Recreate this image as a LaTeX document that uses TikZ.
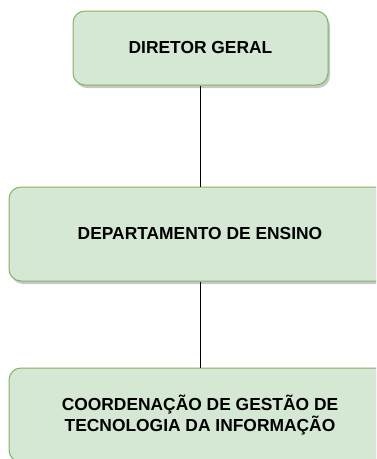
\documentclass[tikz,border=0pt]{standalone}
\usepackage{fontspec}
\setmainfont{Liberation Sans}
\usetikzlibrary{shadows}
\definecolor{boxfill}{HTML}{D5E8D4}
\definecolor{boxline}{HTML}{82B366}
\tikzset{
  orgbox/.style={draw=boxline, fill=boxfill, line width=1pt, rounded corners=12pt,
    align=center, inner sep=0pt,
    font=\fontsize{17.4}{21}\selectfont\bfseries,
    drop shadow={shadow xshift=2pt, shadow yshift=-3pt, fill=black, opacity=0.22}},
  link/.style={draw=black, line width=1pt}
}
\begin{document}
\begin{tikzpicture}[x=1pt, y=-1pt]
\useasboundingbox (0,0) rectangle (376,459);
\clip (0,0) rectangle (376,459);
\node[orgbox, minimum width=255pt, minimum height=74pt] (dg) at (200.5,48) {DIRETOR GERAL};
\node[orgbox, minimum width=382pt, minimum height=94pt] (de) at (200,234) {DEPARTAMENTO DE ENSINO};
\node[orgbox, minimum width=382pt, minimum height=94pt] (cg) at (200,415) {COORDENAÇÃO DE GESTÃO DE\\TECNOLOGIA DA INFORMAÇÃO};
\draw[link] (dg.south -| de.north) -- (de.north);
\draw[link] (de.south) -- (cg.north);
\end{tikzpicture}
\end{document}
